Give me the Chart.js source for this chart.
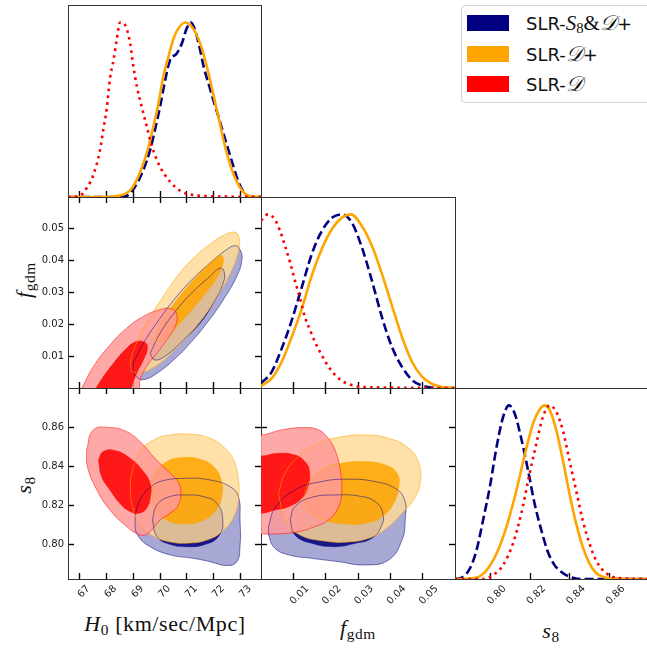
<!DOCTYPE html>
<html>
<head>
<meta charset="utf-8">
<script src="https://cdn.jsdelivr.net/npm/chart.js@4.4.1/dist/chart.umd.min.js"></script>
<style>
  body { margin: 0; background: #fff; width: 647px; height: 648px; position: relative; overflow: hidden; }
  canvas { position: absolute; }
  .t { position: absolute; font-family: "Liberation Serif", "DejaVu Serif", serif; font-size: 22px; line-height: 24px; height: 24px; color: #111; white-space: nowrap; text-align: center; letter-spacing: 0.6px; }
  .t sub { font-size: 0.7em; vertical-align: -0.25em; line-height: 0; font-style: normal; }
  .rot { width: 120px; transform: rotate(-90deg); }
  #lg { position: absolute; left: 461px; top: 5px; width: 200px; height: 96px; border: 1px solid #d4d4d4; border-radius: 4px; background: rgba(255,255,255,0.85); }
  .it { position: absolute; left: 5px; height: 16px; }
  .sw { position: absolute; left: 0; top: 0; width: 42px; height: 16px; }
  .lb { position: absolute; left: 59px; top: -3px; font-family: "DejaVu Sans", sans-serif; font-size: 18px; line-height: 22px; white-space: nowrap; color: #111; }
  .m { font-family: "Liberation Serif", "DejaVu Serif", serif; font-size: 21px; }
  .m sub { font-size: 0.7em; vertical-align: -0.2em; line-height: 0; }
</style>
</head>
<body>

<div class="t" style="left:0; width:330px; top:612px;"><i>H</i><sub>0</sub> [km/sec/Mpc]</div>
<div class="t" style="left:258px; width:200px; top:616px;"><i>f</i><sub>gdm</sub></div>
<div class="t" style="left:451px; width:200px; top:619px;"><i>s</i><sub>8</sub></div>
<div class="t rot" style="left:-36px; top:268px;"><i>f</i><sub>gdm</sub></div>
<div class="t rot" style="left:-36px; top:473px;"><i>s</i><sub>8</sub></div>

<div id="lg">
  <div class="it" style="top:9px"><span class="sw" style="background:#000080"></span><span class="lb">SLR-<span class="m"><i>S</i><sub>8</sub>&amp;<i>𝒟</i></span>+</span></div>
  <div class="it" style="top:40px"><span class="sw" style="background:#FFA500"></span><span class="lb">SLR-<span class="m"><i>𝒟</i></span>+</span></div>
  <div class="it" style="top:70px"><span class="sw" style="background:#FF0000"></span><span class="lb">SLR-<span class="m"><i>𝒟</i></span></span></div>
</div>

<script>
// tick values and axis ranges
const h0Ticks = [67, 68, 69, 70, 71, 72, 73];
const fTicks = [0.01, 0.02, 0.03, 0.04, 0.05];
const s8Ticks = [0.80, 0.82, 0.84, 0.86];
const h0Range = [66.58, 73.75];
const fRange = [0, 0.06];
const s8RangeX = [0.782, 0.879];
const s8RangeY = [0.7822, 0.8802];
const pdfRange = [0, 1.1];

// 1D marginals (normalised to peak = 1)
const h0NavyX = [66.58, 68.5, 68.76, 69.07, 69.38, 69.63, 69.81, 70.0, 70.19, 70.37, 70.62, 70.81, 70.99, 71.15, 71.3, 71.49, 71.62, 71.8, 71.98, 72.17, 72.35, 72.54, 72.73, 72.91, 73.1, 73.28, 73.75];
const h0NavyY = [0, 0, 0.006, 0.059, 0.155, 0.269, 0.384, 0.517, 0.67, 0.784, 0.822, 0.88, 0.966, 1.0, 0.956, 0.841, 0.746, 0.65, 0.555, 0.46, 0.365, 0.269, 0.173, 0.088, 0.03, 0.006, 0];
const h0OrgX = [66.58, 67.9, 68.5, 68.9, 69.13, 69.38, 69.57, 69.75, 69.94, 70.12, 70.31, 70.5, 70.68, 70.93, 71.18, 71.49, 71.74, 72.11, 72.48, 72.85, 73.22, 73.5, 73.75];
const h0OrgY = [0, 0, 0.008, 0.04, 0.097, 0.193, 0.288, 0.402, 0.536, 0.689, 0.803, 0.908, 0.966, 1.0, 0.975, 0.88, 0.746, 0.498, 0.25, 0.088, 0.011, 0.002, 0];
const h0RedX = [66.58, 67.0, 67.3, 67.52, 67.77, 67.89, 68.02, 68.14, 68.27, 68.39, 68.51, 68.70, 68.89, 69.01, 69.14, 69.32, 69.51, 69.70, 70.0, 70.37, 70.81, 71.24, 71.98, 73.75];
const h0RedY = [0, 0.006, 0.057, 0.126, 0.269, 0.384, 0.508, 0.68, 0.784, 0.899, 1.0, 0.985, 0.88, 0.746, 0.631, 0.516, 0.402, 0.288, 0.173, 0.088, 0.03, 0.011, 0.004, 0];

const fNavyX = [0.0, 0.0033, 0.0064, 0.0095, 0.0126, 0.0157, 0.0188, 0.0219, 0.025, 0.0281, 0.0312, 0.0343, 0.0374, 0.0405, 0.0436, 0.0467, 0.0498, 0.0529, 0.06];
const fNavyY = [0.027, 0.093, 0.227, 0.389, 0.58, 0.771, 0.904, 0.98, 1.0, 0.952, 0.81, 0.618, 0.408, 0.236, 0.122, 0.046, 0.014, 0.003, 0];
const fOrgX = [0.0, 0.0033, 0.0064, 0.0095, 0.0126, 0.0157, 0.0188, 0.0219, 0.025, 0.0278, 0.0312, 0.0343, 0.0374, 0.0405, 0.0436, 0.0467, 0.0498, 0.0529, 0.056, 0.06];
const fOrgY = [0.011, 0.055, 0.151, 0.294, 0.456, 0.647, 0.8, 0.914, 0.98, 1.0, 0.933, 0.819, 0.657, 0.475, 0.294, 0.151, 0.065, 0.023, 0.006, 0];
const fRedX = [0.0, 0.0021, 0.0043, 0.0059, 0.0074, 0.009, 0.0105, 0.0121, 0.0136, 0.0152, 0.0167, 0.0188, 0.0209, 0.023, 0.0255, 0.0281, 0.0322, 0.06];
const fRedY = [0.965, 1.0, 0.97, 0.905, 0.82, 0.723, 0.618, 0.513, 0.408, 0.332, 0.265, 0.189, 0.122, 0.074, 0.036, 0.017, 0.005, 0];

const s8NavyX = [0.782, 0.7845, 0.7895, 0.7929, 0.7962, 0.7996, 0.803, 0.8063, 0.8093, 0.8122, 0.8155, 0.8189, 0.8222, 0.8256, 0.8289, 0.8323, 0.8356, 0.8398, 0.8465, 0.879];
const s8NavyY = [0, 0.004, 0.06, 0.167, 0.34, 0.53, 0.76, 0.933, 1.0, 0.952, 0.808, 0.626, 0.435, 0.282, 0.157, 0.08, 0.042, 0.013, 0, 0];
const s8OrgX = [0.782, 0.7862, 0.7929, 0.7979, 0.803, 0.808, 0.813, 0.8172, 0.8214, 0.8247, 0.8273, 0.8298, 0.8332, 0.8365, 0.8398, 0.8432, 0.8465, 0.8499, 0.8532, 0.8566, 0.8616, 0.879];
const s8OrgY = [0, 0, 0.008, 0.05, 0.147, 0.3, 0.51, 0.713, 0.895, 0.975, 1.0, 0.975, 0.856, 0.684, 0.493, 0.32, 0.186, 0.09, 0.036, 0.013, 0.002, 0];
const s8RedX = [0.782, 0.7962, 0.8013, 0.8063, 0.8113, 0.8155, 0.8197, 0.8231, 0.8264, 0.8298, 0.8332, 0.8365, 0.8398, 0.8432, 0.8465, 0.8499, 0.8532, 0.8566, 0.86, 0.865, 0.879];
const s8RedY = [0, 0, 0.023, 0.08, 0.205, 0.378, 0.607, 0.78, 0.933, 1.0, 0.962, 0.856, 0.684, 0.51, 0.34, 0.205, 0.109, 0.052, 0.021, 0.005, 0];

// 2D contours, [x, y] outlines (68% and 95%)
// H0 - fgdm
const hfRed95 = [[66.78,-0.0048],[67.09,-0.0001],[67.52,0.0067],[68.14,0.0135],[68.76,0.0188],[69.38,0.0225],[70.0,0.0246],[70.43,0.0249],[70.62,0.0230],[70.56,0.0193],[70.25,0.0151],[69.88,0.0109],[69.5,0.0067],[69.26,0.0025],[69.13,-0.0027]];
const hfRed68 = [[67.46,-0.0027],[67.77,0.0020],[68.27,0.0078],[68.76,0.0125],[69.13,0.0146],[69.44,0.0143],[69.53,0.0125],[69.38,0.0088],[69.13,0.0046],[68.95,0.0004],[68.82,-0.0038]];
const hfOrg95 = [[68.95,0.0051],[68.91,0.0088],[69.13,0.0141],[69.5,0.0204],[70.0,0.0272],[70.62,0.0349],[71.24,0.0408],[71.86,0.0452],[72.42,0.0482],[72.79,0.0489],[72.94,0.0471],[72.91,0.0429],[72.62,0.0362],[72.12,0.0287],[71.56,0.0216],[70.95,0.0156],[70.3,0.0100],[69.7,0.0062],[69.2,0.0046]];
const hfOrg68 = [[69.81,0.0146],[70.0,0.0193],[70.37,0.0246],[70.87,0.0303],[71.49,0.0361],[71.98,0.0401],[72.27,0.0417],[72.35,0.0398],[72.17,0.0356],[71.74,0.0303],[71.18,0.0246],[70.62,0.0193],[70.12,0.0151]];
const hfNavy95 = [[69.01,0.0078],[69.38,0.0141],[70.0,0.0219],[70.62,0.0288],[71.24,0.0345],[71.86,0.0393],[72.48,0.0435],[72.79,0.0447],[72.97,0.0435],[73.04,0.0403],[72.85,0.0351],[72.35,0.0277],[71.74,0.0204],[71.12,0.0141],[70.5,0.0088],[69.88,0.0046],[69.44,0.0027],[69.2,0.0030],[69.01,0.0051]];
const hfNavy68 = [[69.63,0.0109],[70.0,0.0172],[70.62,0.0246],[71.24,0.0304],[71.86,0.0351],[72.23,0.0377],[72.38,0.0366],[72.35,0.0330],[71.98,0.0267],[71.49,0.0204],[70.87,0.0151],[70.25,0.0104],[69.81,0.0088]];
// H0 - s8
const hsRed95 = [[67.27,0.8484],[67.52,0.8587],[68.14,0.8599],[68.76,0.8578],[69.26,0.8527],[69.75,0.8450],[70.25,0.8381],[70.62,0.8330],[70.77,0.8279],[70.68,0.8202],[70.37,0.8159],[70.0,0.8125],[69.57,0.8057],[69.26,0.8048],[68.76,0.8091],[68.14,0.8176],[67.65,0.8279],[67.3,0.8399]];
const hsRed68 = [[67.71,0.8433],[67.89,0.8476],[68.33,0.8481],[68.89,0.8441],[69.38,0.8373],[69.63,0.8313],[69.65,0.8253],[69.5,0.8185],[69.2,0.8159],[68.89,0.8168],[68.51,0.8210],[68.14,0.8279],[67.83,0.8347]];
const hsOrg95 = [[68.89,0.8296],[68.95,0.8364],[69.26,0.8476],[69.75,0.8535],[70.37,0.8561],[71.24,0.8564],[71.86,0.8544],[72.35,0.8501],[72.73,0.8433],[72.91,0.8330],[72.91,0.8228],[72.75,0.8145],[72.38,0.8075],[71.8,0.8025],[71.0,0.8006],[70.3,0.8014],[69.75,0.8042],[69.3,0.8095],[68.98,0.8190]];
const hsOrg68 = [[69.69,0.8279],[69.81,0.8364],[70.25,0.8424],[70.87,0.8445],[71.49,0.8436],[71.98,0.8399],[72.27,0.8330],[72.29,0.8245],[72.04,0.8168],[71.49,0.8117],[70.87,0.8105],[70.25,0.8125],[69.81,0.8185]];
const hsNavy95 = [[69.5,0.8279],[70.0,0.8322],[70.99,0.8339],[71.86,0.8330],[72.6,0.8296],[72.91,0.8245],[72.97,0.8125],[72.97,0.7988],[72.85,0.7911],[72.48,0.7891],[71.86,0.7911],[71.24,0.7928],[70.37,0.7946],[69.63,0.7988],[69.2,0.8040],[69.07,0.8108],[69.2,0.8210]];
const hsNavy68 = [[69.72,0.8125],[69.88,0.8202],[70.37,0.8245],[70.99,0.8253],[71.61,0.8245],[72.11,0.8210],[72.33,0.8125],[72.17,0.8040],[71.61,0.7997],[70.99,0.7988],[70.37,0.8000],[69.88,0.8040]];
// fgdm - s8
const fsRed95 = [[-0.006,0.8057],[-0.006,0.8561],[0.0002,0.8561],[0.0064,0.8587],[0.0136,0.8599],[0.0178,0.8587],[0.0204,0.8552],[0.0229,0.8484],[0.0245,0.8381],[0.025,0.8279],[0.024,0.8193],[0.0209,0.8125],[0.0167,0.8091],[0.0116,0.8065],[0.0043,0.8053]];
const fsRed68 = [[-0.006,0.8159],[-0.006,0.8458],[0.0002,0.8453],[0.0054,0.8467],[0.0105,0.8458],[0.0136,0.8424],[0.015,0.8373],[0.0145,0.8296],[0.0126,0.8236],[0.0085,0.8193],[0.0043,0.8176],[0.0002,0.8159]];
const fsOrg95 = [[0.0054,0.8262],[0.0074,0.8364],[0.0116,0.8450],[0.0178,0.8518],[0.0250,0.8552],[0.0322,0.8561],[0.0395,0.8544],[0.0457,0.8493],[0.0488,0.8416],[0.0493,0.8330],[0.0478,0.8245],[0.0436,0.8159],[0.0390,0.8085],[0.0340,0.8035],[0.0270,0.8012],[0.0195,0.8017],[0.0118,0.8050],[0.0075,0.8125]];
const fsOrg68 = [[0.0131,0.8236],[0.0152,0.8330],[0.0198,0.8390],[0.0250,0.8416],[0.0322,0.8424],[0.0384,0.8407],[0.0421,0.8364],[0.0426,0.8296],[0.0410,0.8210],[0.0374,0.8142],[0.0322,0.8108],[0.0260,0.8105],[0.0198,0.8125],[0.0152,0.8168]];
const fsNavy95 = [[0.0023,0.8091],[0.0043,0.8185],[0.0105,0.8279],[0.0188,0.8322],[0.0271,0.8334],[0.0353,0.8322],[0.0415,0.8287],[0.0444,0.8228],[0.0446,0.8125],[0.0436,0.8022],[0.0395,0.7920],[0.0322,0.7894],[0.0240,0.7911],[0.0157,0.7928],[0.0085,0.7946],[0.0043,0.7980],[0.0025,0.8040]];
const fsNavy68 = [[0.0090,0.8125],[0.0105,0.8193],[0.0157,0.8241],[0.0229,0.8253],[0.0302,0.8248],[0.0353,0.8219],[0.0377,0.8159],[0.0372,0.8091],[0.0343,0.8031],[0.0291,0.8005],[0.0229,0.7988],[0.0157,0.8005],[0.0105,0.8048]];

// colours
const NAVY = '#000080', ORANGE = '#FFA500', RED = '#FF0000';
const fills = {
  navy: ['rgba(153,153,204,0.85)', 'rgba(0,0,128,0.85)'],
  org: ['rgba(255,218,153,0.85)', 'rgba(255,165,0,0.85)'],
  red: ['rgba(255,153,153,0.85)', 'rgba(255,0,0,0.85)']
};
const edges = { navy: 'rgba(0,0,128,0.5)', org: 'rgba(255,165,0,0.55)', red: 'rgba(255,0,0,0.5)' };

function axis(position, range, o) {
  const horiz = position === 'top' || position === 'bottom';
  const a = {
    type: 'linear', position, min: range[0], max: range[1], z: 1,
    grid: { display: true, drawOnChartArea: false, drawTicks: !!o.ticks, tickLength: -6, tickWidth: 1.4, tickColor: '#000' },
    border: { display: o.border !== false, color: '#333', width: 1 },
    ticks: {
      display: !!o.labels, padding: 10, color: '#222',
      font: { family: 'DejaVu Sans', size: 10 },
      minRotation: horiz && o.labels ? 45 : 0, maxRotation: horiz && o.labels ? 45 : 0,
      labelOffset: o.shift || 0,
      callback: v => v.toFixed(o.dec || 0)
    },
    afterFit: s => {
      if (horiz) s.height = o.size; else s.width = o.size;
      s.paddingLeft = s.paddingRight = s.paddingTop = s.paddingBottom = 0;
    }
  };
  if (o.ticks) a.afterBuildTicks = s => { s.ticks = o.ticks.map(v => ({ value: v })); };
  return a;
}

function curve(xs, ys, color, dash) {
  return {
    data: xs.map((x, i) => ({ x, y: ys[i] })),
    borderColor: color, borderWidth: 2.6, borderDash: dash, borderCapStyle: 'butt',
    fill: false, pointRadius: 0, tension: 0.4, cubicInterpolationMode: 'monotone'
  };
}

function contourFill(pts, color) {
  const d = pts.concat([pts[0]]).map(p => ({ x: p[0], y: p[1] }));
  return { data: d, backgroundColor: color, borderColor: 'transparent', borderWidth: 0.01, fill: 'shape', pointRadius: 0, tension: 0.45 };
}
function contourEdge(pts, color) {
  const d = pts.concat([pts[0]]).map(p => ({ x: p[0], y: p[1] }));
  return { data: d, borderColor: color, borderWidth: 1, fill: false, pointRadius: 0, tension: 0.45 };
}

// first dataset is drawn on top: edges, then red, orange, navy fills
function contours(sets) {
  const order = ['red', 'org', 'navy'];
  const out = [];
  order.forEach(k => { out.push(contourEdge(sets[k][1], edges[k])); out.push(contourEdge(sets[k][0], edges[k])); });
  order.forEach(k => { out.push(contourFill(sets[k][1], fills[k][1])); out.push(contourFill(sets[k][0], fills[k][0])); });
  return out;
}

function panel(box, m, scales, datasets) {
  const c = document.createElement('canvas');
  c.width = box[2] + m[0] + m[2];
  c.height = box[3] + m[1] + m[3];
  c.style.left = (box[0] - m[0]) + 'px';
  c.style.top = (box[1] - m[1]) + 'px';
  document.body.insertBefore(c, document.getElementById('lg'));
  new Chart(c, {
    type: 'line',
    data: { datasets },
    options: {
      responsive: false, animation: false, devicePixelRatio: 1, events: [],
      layout: { padding: 0, autoPadding: false },
      plugins: { legend: { display: false }, tooltip: { enabled: false } },
      scales
    }
  });
}

// panel boxes [x, y, w, h] ; margins [left, top, right, bottom]
const colX = [68, 261, 455], colW = [193, 194, 192];
const rowY = [5, 197, 388], rowH = [192, 191, 191];
const box = (r, c) => [colX[c], rowY[r], colW[c], rowH[r]];

// H0 marginal
panel(box(0, 0), [4, 4, 4, 4], {
  x: axis('bottom', h0Range, { size: 4, ticks: h0Ticks }),
  x2: axis('top', h0Range, { size: 4 }),
  y: axis('left', pdfRange, { size: 4 }),
  y2: axis('right', pdfRange, { size: 4 })
}, [curve(h0RedX, h0RedY, RED, [2.6, 4.2]), curve(h0OrgX, h0OrgY, ORANGE, []), curve(h0NavyX, h0NavyY, NAVY, [9, 4])]);

// H0 - fgdm
panel(box(1, 0), [68, 4, 4, 4], {
  x: axis('bottom', h0Range, { size: 4, ticks: h0Ticks }),
  x2: axis('top', h0Range, { size: 4, ticks: h0Ticks }),
  y: axis('left', fRange, { size: 68, ticks: fTicks, labels: true, dec: 2 }),
  y2: axis('right', fRange, { size: 4, ticks: fTicks })
}, contours({ red: [hfRed95, hfRed68], org: [hfOrg95, hfOrg68], navy: [hfNavy95, hfNavy68] }));

// fgdm marginal
panel(box(1, 1), [4, 4, 4, 4], {
  x: axis('bottom', fRange, { size: 4, ticks: fTicks }),
  x2: axis('top', fRange, { size: 4 }),
  y: axis('left', pdfRange, { size: 4 }),
  y2: axis('right', pdfRange, { size: 4 })
}, [curve(fRedX, fRedY, RED, [2.6, 4.2]), curve(fOrgX, fOrgY, ORANGE, []), curve(fNavyX, fNavyY, NAVY, [9, 4])]);

// H0 - s8
panel(box(2, 0), [68, 4, 4, 69], {
  x: axis('bottom', h0Range, { size: 69, ticks: h0Ticks, labels: true, dec: 0, shift: 9 }),
  x2: axis('top', h0Range, { size: 4, ticks: h0Ticks }),
  y: axis('left', s8RangeY, { size: 68, ticks: s8Ticks, labels: true, dec: 2 }),
  y2: axis('right', s8RangeY, { size: 4, ticks: s8Ticks })
}, contours({ red: [hsRed95, hsRed68], org: [hsOrg95, hsOrg68], navy: [hsNavy95, hsNavy68] }));

// fgdm - s8
panel(box(2, 1), [4, 4, 4, 69], {
  x: axis('bottom', fRange, { size: 69, ticks: fTicks, labels: true, dec: 2, shift: 14 }),
  x2: axis('top', fRange, { size: 4, ticks: fTicks }),
  y: axis('left', s8RangeY, { size: 4, ticks: s8Ticks }),
  y2: axis('right', s8RangeY, { size: 4, ticks: s8Ticks })
}, contours({ red: [fsRed95, fsRed68], org: [fsOrg95, fsOrg68], navy: [fsNavy95, fsNavy68] }));

// s8 marginal
panel(box(2, 2), [4, 4, 0, 69], {
  x: axis('bottom', s8RangeX, { size: 69, ticks: s8Ticks, labels: true, dec: 2, shift: 14 }),
  x2: axis('top', s8RangeX, { size: 4 }),
  y: axis('left', pdfRange, { size: 4 }),
  y2: axis('right', pdfRange, { size: 0, border: false })
}, [curve(s8RedX, s8RedY, RED, [2.6, 4.2]), curve(s8OrgX, s8OrgY, ORANGE, []), curve(s8NavyX, s8NavyY, NAVY, [9, 4])]);
</script>
</body>
</html>
